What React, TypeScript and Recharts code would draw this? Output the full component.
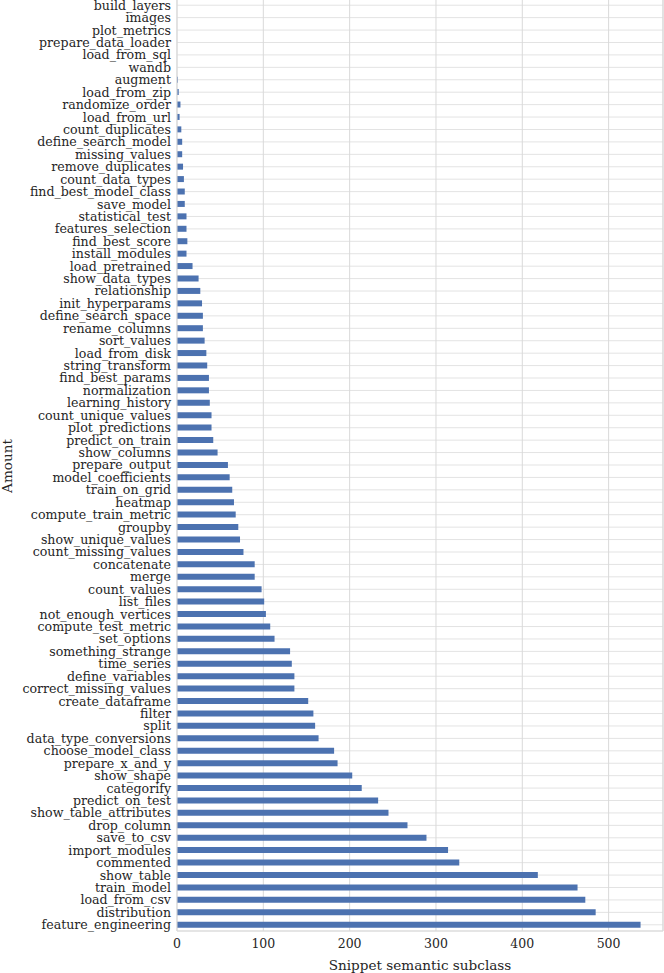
import React from "react";
import {
  BarChart,
  Bar,
  XAxis,
  YAxis,
  CartesianGrid,
  ReferenceLine,
} from "recharts";

const categories: string[] = [
  "build_layers", "images", "plot_metrics", "prepare_data_loader", "load_from_sql",
  "wandb", "augment", "load_from_zip", "randomize_order", "load_from_url",
  "count_duplicates", "define_search_model", "missing_values", "remove_duplicates",
  "count_data_types", "find_best_model_class", "save_model", "statistical_test",
  "features_selection", "find_best_score", "install_modules", "load_pretrained",
  "show_data_types", "relationship", "init_hyperparams", "define_search_space",
  "rename_columns", "sort_values", "load_from_disk", "string_transform",
  "find_best_params", "normalization", "learning_history", "count_unique_values",
  "plot_predictions", "predict_on_train", "show_columns", "prepare_output",
  "model_coefficients", "train_on_grid", "heatmap", "compute_train_metric",
  "groupby", "show_unique_values", "count_missing_values", "concatenate", "merge",
  "count_values", "list_files", "not_enough_vertices", "compute_test_metric",
  "set_options", "something_strange", "time_series", "define_variables",
  "correct_missing_values", "create_dataframe", "filter", "split",
  "data_type_conversions", "choose_model_class", "prepare_x_and_y", "show_shape",
  "categorify", "predict_on_test", "show_table_attributes", "drop_column",
  "save_to_csv", "import_modules", "commented", "show_table", "train_model",
  "load_from_csv", "distribution", "feature_engineering",
];

const amounts: number[] = [
  0, 0, 0, 0, 0,
  0, 1, 2, 4, 3,
  5, 6, 6, 7,
  8, 9, 9, 11,
  11, 12, 11, 18,
  25, 27, 29, 30,
  30, 32, 34, 35,
  37, 37, 38, 40,
  40, 42, 47, 59,
  61, 64, 66, 68,
  71, 73, 77, 90, 90,
  98, 101, 103, 108,
  113, 131, 133, 136,
  136, 152, 158, 160,
  164, 182, 186, 203,
  214, 233, 245, 267,
  289, 314, 327, 418, 464,
  473, 485, 537,
];

const xTicks: number[] = [0, 100, 200, 300, 400, 500];
const xMax = 563;

const data = categories.map((name, i) => ({ name, value: amounts[i] }));

const FONT = "'DejaVu Serif', serif";
const TEXT = "#262626";
const GRID = "#d9d9d9";

export default function App() {
  return (
    <div style={{ position: "absolute", left: 0, top: -1 }}>
      <BarChart
        width={664}
        height={974}
        data={data}
        layout="vertical"
        margin={{ top: 0, right: 1, bottom: 0, left: 0 }}
        barCategoryGap="25%"
      >
        <CartesianGrid horizontal={true} vertical={false} stroke="#e3e3e3" />
        <CartesianGrid horizontal={false} vertical={true} stroke={GRID} />
        <XAxis
          type="number"
          domain={[0, xMax]}
          ticks={xTicks}
          allowDataOverflow
          tickLine={false}
          tickSize={0}
          tickMargin={8}
          axisLine={{ stroke: GRID }}
          height={42}
          tick={{ fill: TEXT, fontFamily: FONT, fontSize: 12.5 }}
          label={{
            value: "Snippet semantic subclass",
            position: "insideBottom",
            offset: 3,
            fill: TEXT,
            fontFamily: FONT,
            fontSize: 13.6,
          }}
        />
        <YAxis
          type="category"
          dataKey="name"
          width={177}
          interval={0}
          tickLine={false}
          tickSize={0}
          tickMargin={6}
          axisLine={{ stroke: GRID }}
          tick={{ fill: TEXT, fontFamily: FONT, fontSize: 12.6 }}
          label={{
            value: "Amount",
            content: (props: any) => (
              <text
                x={6.5}
                y={467}
                transform="rotate(-90 6.5 467)"
                textAnchor="middle"
                dominantBaseline="central"
                fill={TEXT}
                fontFamily={FONT}
                fontSize={13.6}
              >
                Amount
              </text>
            ),
          }}
        />
        <ReferenceLine x={xMax} stroke={GRID} ifOverflow="extendDomain" />
        <Bar dataKey="value" fill="#4c72b0" isAnimationActive={false} />
      </BarChart>
    </div>
  );
}
